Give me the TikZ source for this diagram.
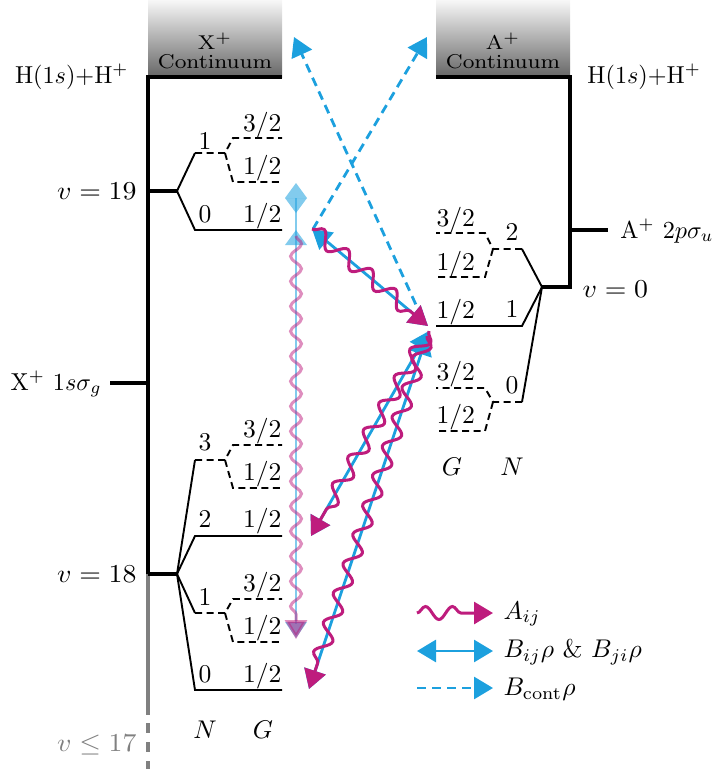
\documentclass[tikz,border=0pt]{standalone}
\usetikzlibrary{arrows.meta,decorations.pathmorphing}
\definecolor{mag}{RGB}{190,28,125}
\definecolor{cy}{RGB}{28,160,222}
\tikzset{
  ladder/.style={line width=4.4pt, line join=miter},
  lev/.style={line width=1.9pt},
  levd/.style={line width=1.9pt, dash pattern=on 7pt off 4.5pt},
  >={Triangle[length=19pt,width=22pt]},
  wavy/.style={draw=mag, line width=3pt, ->, decorate,
    decoration={snake, amplitude=7.5pt, segment length=31pt, post length=22pt}},
  bidir/.style={draw=cy, line width=2.8pt, <->},
  contarrow/.style={draw=cy, line width=2.8pt, ->, dash pattern=on 9pt off 6pt},
  lbl/.style={font=\normalsize, xscale=2.56, yscale=2.56},
  vlbl/.style={font=\normalsize, xscale=2.78, yscale=2.58},
  tlbl/.style={font=\normalsize, xscale=2.42, yscale=2.45},
  small lbl/.style={font={\fontsize{8}{7.3}\selectfont}, xscale=2.75, yscale=2.5, align=center},
  every node/.style={inner sep=0pt}
}
\begin{document}
\begin{tikzpicture}[x=1pt,y=-1pt]
\useasboundingbox (0,0) rectangle (720,769);

% ---------- continua ----------
\shade[top color=black!3, bottom color=black!60] (148,0) rectangle (282,77);
\shade[top color=black!3, bottom color=black!60] (436,0) rectangle (570,77);
\node[small lbl] (xc) at (215,51) {X$^+$\\Continuum};
\node[small lbl] (ac) at (503,51) {A$^+$\\Continuum};

% ---------- X+ ladder ----------
\coordinate (Xtop) at (148,77);
\coordinate (Xc) at (282,77);
\coordinate (X19) at (148,191);
\coordinate (X19b) at (177,191);
\coordinate (X18) at (148,574);
\coordinate (X18b) at (177,574);
\coordinate (Xsig) at (148,383);
\coordinate (Xsigl) at (110,383);
\coordinate (Xgr) at (148,715);
\coordinate (Xgd1) at (148,723);
\coordinate (Xgd2) at (148,769);

\draw[black!50, line width=4.2pt] (X18) -- (Xgr);
\draw[black!50, line width=4.2pt, dash pattern=on 10pt off 9pt] (Xgd1) -- (Xgd2);
\draw[ladder] (Xc) -- (Xtop) -- (X18);
\draw[ladder] (Xsigl) -- (Xsig);
\draw[ladder] (X19) -- (X19b);
\draw[ladder] (X18) -- (X18b);

\node[tlbl, anchor=east] (hl) at (129,77) {H(1$s$)+H$^+$};
\node[vlbl, anchor=east] (v19) at (137,191) {$v=19$};
\node[vlbl, anchor=east] (v18) at (137,574) {$v=18$};
\node[tlbl, anchor=base east] (xsig) at (102,390) {X$^+$ $1s\sigma_g$};
\node[vlbl, anchor=east, text=black!50] (v17) at (137,745) {$v\leq17$};

% v = 19
\draw[lev] (X19b) -- (195,153);
\draw[levd] (195,153) -- (225,153) -- (233,138) -- (282,138);
\draw[levd] (225,153) -- (233,182) -- (282,182);
\node[lbl, anchor=base] (n191) at (205,149) {1};
\node[lbl, anchor=base east] (g1913) at (282,131) {3/2};
\node[lbl, anchor=base east] (g1911) at (282,174) {1/2};
\draw[lev] (X19b) -- (195,230) -- (282,230);
\node[lbl, anchor=base] (n190) at (205,222) {0};
\node[lbl, anchor=base east] (g190) at (282,222) {1/2};

% v = 18
\draw[lev] (X18b) -- (195,460);
\draw[levd] (195,460) -- (225,460) -- (233,445) -- (282,445);
\draw[levd] (225,460) -- (233,488) -- (282,488);
\node[lbl, anchor=base] (n183) at (205,450) {3};
\node[lbl, anchor=base east] (g1833) at (282,437) {3/2};
\node[lbl, anchor=base east] (g1831) at (282,480) {1/2};
\draw[lev] (X18b) -- (195,536) -- (282,536);
\node[lbl, anchor=base] (n182) at (205,527) {2};
\node[lbl, anchor=base east] (g182) at (282,527) {1/2};
\draw[lev] (X18b) -- (195,613);
\draw[levd] (195,613) -- (225,613) -- (233,599) -- (282,599);
\draw[levd] (225,613) -- (233,642) -- (282,642);
\node[lbl, anchor=base] (n181) at (205,605) {1};
\node[lbl, anchor=base east] (g1813) at (282,591) {3/2};
\node[lbl, anchor=base east] (g1811) at (282,634) {1/2};
\draw[lev] (X18b) -- (195,690) -- (282,690);
\node[lbl, anchor=base] (n180) at (205,682) {0};
\node[lbl, anchor=base east] (g180) at (282,682) {1/2};
\node[lbl] (NL) at (205,730) {$N$};
\node[lbl] (GL) at (263,730) {$G$};

% ---------- A+ ladder ----------
\coordinate (Atop) at (570,77);
\coordinate (Ac) at (436,77);
\coordinate (A0) at (570,287);
\coordinate (A0b) at (542,287);
\coordinate (Asig) at (570,230);
\coordinate (Asigr) at (608,230);
\draw[ladder] (Ac) -- (Atop) -- (A0) -- (A0b);
\draw[ladder] (Asig) -- (Asigr);
\node[tlbl, anchor=west] (hr) at (587,77) {H(1$s$)+H$^+$};
\node[tlbl, anchor=base west] (asig) at (620,238) {A$^+$ $2p\sigma_u$};
\node[vlbl, anchor=west] (v0) at (582,289) {$v=0$};

\draw[lev] (A0b) -- (522,249);
\draw[levd] (522,249) -- (493,249) -- (485,233) -- (436,233);
\draw[levd] (493,249) -- (485,277) -- (436,277);
\node[lbl, anchor=base] (a2) at (512,240) {2};
\node[lbl, anchor=base west] (ga23) at (436,226) {3/2};
\node[lbl, anchor=base west] (ga21) at (436,270) {1/2};
\draw[lev] (A0b) -- (522,326) -- (436,326);
\node[lbl, anchor=base] (a1) at (512,317) {1};
\node[lbl, anchor=base west] (ga1) at (436,318) {1/2};
\draw[lev] (A0b) -- (522,402);
\draw[levd] (522,402) -- (493,402) -- (485,388) -- (436,388);
\draw[levd] (493,402) -- (485,431) -- (436,431);
\node[lbl, anchor=base] (a0) at (512,393) {0};
\node[lbl, anchor=base west] (ga03) at (436,380) {3/2};
\node[lbl, anchor=base west] (ga01) at (436,423) {1/2};
\node[lbl] (GR) at (452,467) {$G$};
\node[lbl] (NR) at (512,467) {$N$};

% ---------- transitions ----------
\coordinate (D1a) at (312,229);
\coordinate (D1b) at (428,326);
\coordinate (D2a) at (429,331);
\coordinate (D2b) at (311,536);
\coordinate (D3a) at (427,336);
\coordinate (D3b) at (309,689);
\coordinate (C1a) at (313,229);
\coordinate (C1b) at (427,37);
\coordinate (C2a) at (422,318);
\coordinate (C2b) at (294,37);

\draw[contarrow] (C1a) -- (C1b);
\draw[contarrow] (C2a) -- (C2b);

% vertical (semi-transparent)
\coordinate (Vt) at (296,198);
\coordinate (Vb) at (296,624);
\draw[cy, opacity=0.55, line width=2.4pt] (Vt) -- (Vb);
\fill[cy, opacity=0.55] (285,198) -- (307,198) -- (296,183) -- cycle;
\fill[cy, opacity=0.55] (285,198) -- (307,198) -- (296,213) -- cycle;
\fill[cy, opacity=0.55] (285,245) -- (307,245) -- (296,230) -- cycle;
\fill[cy, opacity=0.55] (285,622) -- (307,622) -- (296,638) -- cycle;
\coordinate (Wt) at (296,236);
\coordinate (Wb) at (296,639);
\draw[wavy, opacity=0.5, decoration={snake, amplitude=5.5pt, segment length=25pt, post length=22pt}] (Wt) -- (Wb);

% diagonal transitions
\draw[bidir] (D1a) -- (D1b);
\draw[bidir] (D2a) -- (D2b);
\draw[bidir] (D3a) -- (D3b);
\draw[wavy] (D1a) -- (D1b);
\draw[wavy] (D2a) -- (D2b);
\draw[wavy] (D3a) -- (D3b);

% ---------- legend ----------
\coordinate (L1a) at (417,613);
\coordinate (L1b) at (493,613);
\coordinate (L2a) at (417,651);
\coordinate (L2b) at (493,651);
\coordinate (L3a) at (417,688);
\coordinate (L3b) at (493,688);
\draw[wavy, decoration={snake, amplitude=6.5pt, segment length=27pt, post length=20pt}] (L1a) -- (L1b);
\draw[bidir] (L2a) -- (L2b);
\draw[contarrow] (L3a) -- (L3b);
\node[lbl, anchor=west] (la) at (503,614) {$A_{ij}$};
\node[lbl, anchor=west] (lb) at (503,652) {$B_{ij}\rho$ \& $B_{ji}\rho$};
\node[lbl, anchor=west] (lc) at (503,689) {$B_{\mathrm{cont}}\rho$};
\end{tikzpicture}
\end{document}
